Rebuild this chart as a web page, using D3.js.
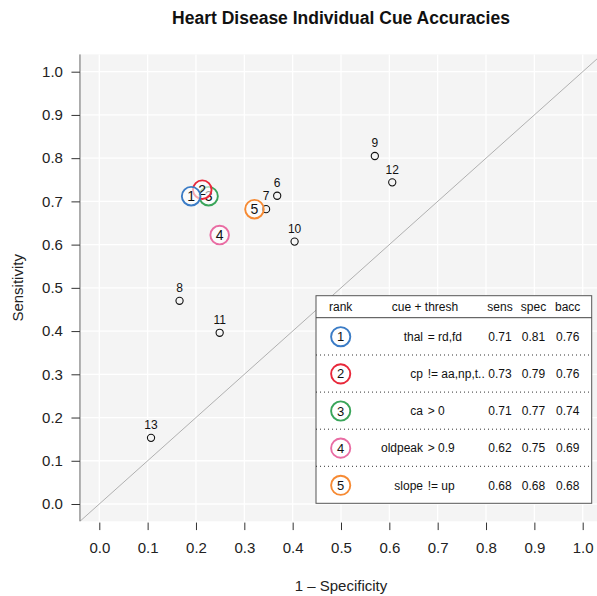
<!DOCTYPE html>
<html>
<head>
<meta charset="utf-8">
<script src="https://cdn.jsdelivr.net/npm/d3@7"></script>
<style>
  html, body { margin: 0; padding: 0; background: #fff; }
  text { font-family: "Liberation Sans", Arial, Helvetica, sans-serif; }
</style>
</head>
<body>
<svg id="chart" width="597" height="596"></svg>
<script>
// ---- data ----
const title = "Heart Disease Individual Cue Accuracies";
const xTitle = "1 \u2013 Specificity";
const yTitle = "Sensitivity";
const ticks = [0, 0.1, 0.2, 0.3, 0.4, 0.5, 0.6, 0.7, 0.8, 0.9, 1.0];

// top 5 ranked cues
const ranks = [1, 2, 3, 4, 5];
const cueNames = ["thal", "cp", "ca", "oldpeak", "slope"];
const cueThresh = ["= rd,fd", "!= aa,np,t..", "> 0", "> 0.9", "!= up"];
const topSens = [0.712, 0.727, 0.712, 0.622, 0.682];
const topSpec = [0.810, 0.787, 0.774, 0.751, 0.679];
const topBacc = [0.76, 0.76, 0.74, 0.69, 0.68];
const rankColors = ["#3b7cc6", "#e8283a", "#3aa55a", "#e96ca3", "#f68a33"];

// other cues (rank 6..13): 1 - specificity (far) and sensitivity
const otherRanks = [6, 7, 8, 9, 10, 11, 12, 13];
const otherFar = [0.368, 0.345, 0.166, 0.570, 0.404, 0.249, 0.606, 0.107];
const otherSens = [0.713, 0.682, 0.470, 0.805, 0.607, 0.396, 0.744, 0.153];

const headers = ["rank", "cue + thresh", "sens", "spec", "bacc"];

// ---- layout ----
const svg = d3.select("#chart");
const x = d3.scaleLinear().domain([0, 1]).range([99.3, 582.7]);
const y = d3.scaleLinear().domain([0, 1]).range([504, 71.7]);
const x0 = x(-0.04), x1 = x(1.04), y0 = y(-0.04), y1 = y(1.04);

// plot background
svg.append("rect").attr("x", x0).attr("y", y1)
  .attr("width", x1 - x0).attr("height", y0 - y1).attr("fill", "#f4f4f4");

// grid
const grid = svg.append("g").attr("stroke", "#ffffff").attr("stroke-width", 1.3);
grid.selectAll("line.v").data(ticks).join("line").attr("class", "v")
  .attr("x1", d => x(d)).attr("x2", d => x(d)).attr("y1", y1).attr("y2", y0);
grid.selectAll("line.h").data(ticks).join("line").attr("class", "h")
  .attr("y1", d => y(d)).attr("y2", d => y(d)).attr("x1", x0).attr("x2", x1);

// clip
svg.append("clipPath").attr("id", "clip").append("rect")
  .attr("x", x0).attr("y", y1).attr("width", x1 - x0).attr("height", y0 - y1);

// diagonal
svg.append("line").attr("clip-path", "url(#clip)")
  .attr("x1", x(-0.04)).attr("y1", y(-0.04)).attr("x2", x(1.04)).attr("y2", y(1.04))
  .attr("stroke", "#b0b0b0").attr("stroke-width", 1);

// left axis line
svg.append("line").attr("x1", x0).attr("x2", x0).attr("y1", y1).attr("y2", y0)
  .attr("stroke", "#666").attr("stroke-width", 1);

// y axis ticks
const yAxis = d3.axisLeft(y).tickValues(ticks).tickFormat(d3.format(".1f")).tickSize(8.5).tickPadding(8.5);
const gy = svg.append("g").attr("transform", `translate(${x0},0)`).call(yAxis);
gy.select(".domain").remove();
gy.selectAll(".tick line").attr("stroke", "#333");
gy.selectAll(".tick text").attr("font-size", 15).attr("fill", "#222")
  .attr("font-family", "Liberation Sans, Arial, sans-serif");

// x axis ticks
const xAxis = d3.axisBottom(x).tickValues(ticks).tickFormat(d3.format(".1f")).tickSize(7.5).tickPadding(12);
const gx = svg.append("g").attr("transform", `translate(0,${y0 + 1.3})`).call(xAxis);
gx.select(".domain").remove();
gx.selectAll(".tick line").attr("stroke", "#333");
gx.selectAll(".tick text").attr("font-size", 15).attr("fill", "#222")
  .attr("font-family", "Liberation Sans, Arial, sans-serif");

// titles
svg.append("text").attr("x", (x0 + x1) / 2).attr("y", 23.5).attr("text-anchor", "middle")
  .attr("font-size", 17.5).attr("font-weight", "bold").attr("fill", "#111").text(title);
svg.append("text").attr("x", (x0 + x1) / 2).attr("y", 591).attr("text-anchor", "middle")
  .attr("font-size", 15).attr("fill", "#222").text(xTitle);
svg.append("text").attr("transform", `translate(23,${(y0 + y1) / 2}) rotate(-90)`)
  .attr("text-anchor", "middle").attr("font-size", 15).attr("fill", "#222").text(yTitle);

// other points
const others = otherRanks.map((r, i) => ({ r, far: otherFar[i], sens: otherSens[i] }));
svg.append("g").selectAll("circle").data(others).join("circle")
  .attr("cx", d => x(d.far)).attr("cy", d => y(d.sens)).attr("r", 3.6)
  .attr("fill", "none").attr("stroke", "#111").attr("stroke-width", 1.1);
svg.append("g").selectAll("text").data(others).join("text")
  .attr("x", d => x(d.far)).attr("y", d => y(d.sens) - 8.7)
  .attr("text-anchor", "middle").attr("font-size", 12).attr("fill", "#111").text(d => d.r);

// top 5 points (draw rank 5 first, rank 1 on top)
const tops = ranks.map((r, i) => ({ r, far: 1 - topSpec[i], sens: topSens[i], col: rankColors[i] })).reverse();
const gt = svg.append("g");
const tg = gt.selectAll("g").data(tops).join("g")
  .attr("transform", d => `translate(${x(d.far)},${y(d.sens)})`);
tg.append("circle").attr("r", 9.3).attr("fill", "#ffffff").attr("fill-opacity", 0.6)
  .attr("stroke", d => d.col).attr("stroke-width", 1.9);
tg.append("text").attr("text-anchor", "middle").attr("y", 5).attr("font-size", 14)
  .attr("fill", "#111").text(d => d.r);

// legend table
const bx0 = 316, bx1 = 591.7, by0 = 295.7, by1 = 503.3;
const leg = svg.append("g");
leg.append("rect").attr("x", bx0).attr("y", by0).attr("width", bx1 - bx0).attr("height", by1 - by0)
  .attr("fill", "#fff").attr("stroke", "#555").attr("stroke-width", 1);
const colX = [340.7, 425, 500, 533.5, 567.7];
const headY = 306.7;
leg.selectAll("text.h").data(headers).join("text").attr("class", "h")
  .attr("x", (d, i) => colX[i]).attr("y", headY + 4.3).attr("text-anchor", "middle")
  .attr("font-size", 12).attr("fill", "#111").text(d => d);
leg.append("line").attr("x1", bx0).attr("x2", bx1).attr("y1", 317.7).attr("y2", 317.7)
  .attr("stroke", "#444").attr("stroke-width", 1);

const rowY = d3.scaleLinear().domain([0, 4]).range([336.7, 485.3]);
const sepY = d3.scaleLinear().domain([0, 3]).range([355, 466.3]);
leg.selectAll("line.sep").data(d3.range(4)).join("line").attr("class", "sep")
  .attr("x1", bx0).attr("x2", bx1).attr("y1", d => sepY(d)).attr("y2", d => sepY(d))
  .attr("stroke", "#333").attr("stroke-width", 1).attr("stroke-dasharray", "1,3");

const f2 = d3.format(".2f");
const rows = ranks.map((r, i) => ({ i, r, col: rankColors[i], cue: cueNames[i], th: cueThresh[i],
  sens: topSens[i], spec: topSpec[i], bacc: topBacc[i] }));
const rg = leg.selectAll("g.row").data(rows).join("g").attr("class", "row")
  .attr("transform", d => `translate(0,${rowY(d.i)})`);
rg.append("circle").attr("cx", colX[0]).attr("r", 9.6).attr("fill", "#fff")
  .attr("stroke", d => d.col).attr("stroke-width", 1.9);
rg.append("text").attr("x", colX[0]).attr("y", 4.6).attr("text-anchor", "middle")
  .attr("font-size", 13).attr("fill", "#111").text(d => d.r);
rg.append("text").attr("x", 423).attr("y", 4.3).attr("text-anchor", "end")
  .attr("font-size", 12).attr("fill", "#111").text(d => d.cue);
rg.append("text").attr("x", 427.7).attr("y", 4.3).attr("text-anchor", "start")
  .attr("font-size", 12).attr("fill", "#111").text(d => d.th);
rg.append("text").attr("x", colX[2]).attr("y", 4.3).attr("text-anchor", "middle")
  .attr("font-size", 12).attr("fill", "#111").text(d => f2(d.sens));
rg.append("text").attr("x", colX[3]).attr("y", 4.3).attr("text-anchor", "middle")
  .attr("font-size", 12).attr("fill", "#111").text(d => f2(d.spec));
rg.append("text").attr("x", colX[4]).attr("y", 4.3).attr("text-anchor", "middle")
  .attr("font-size", 12).attr("fill", "#111").text(d => f2(d.bacc));
</script>
</body>
</html>
